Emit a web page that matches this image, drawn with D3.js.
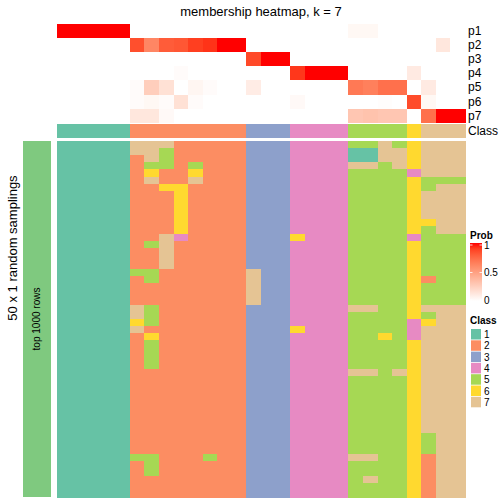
<!DOCTYPE html>
<html><head><meta charset="utf-8">
<script src="https://cdn.jsdelivr.net/npm/d3@7"></script>
<style>body{margin:0;background:#fff}svg{display:block}text{font-family:"Liberation Sans",Arial,Helvetica,sans-serif}</style>
</head><body><svg id="c" width="504" height="504"></svg>
<script>
// ---- data ----
const colClass = [1,1,1,1,1,2,2,2,2,2,2,2,2,3,3,3,4,4,4,4,5,5,5,5,6,7,7,7];
const p1 = [1,1,1,1,1,0,0,0,0,0,0,0,0,0,0,0,0,0,0,0,0.04,0.04,0,0,0,0,0,0];
const p2 = [0,0,0,0,0,0.85,0.62,0.8,0.82,0.9,0.93,1,1,0,0,0,0,0,0,0,0,0,0,0,0,0,0.13,0];
const p3 = [0,0,0,0,0,0,0,0,0,0,0,0,0,0.87,1,1,0,0,0,0,0,0,0,0,0,0,0,0];
const p4 = [0,0,0,0,0,0,0,0,0.02,0,0,0,0,0,0,0,0.92,1,1,1,0,0,0,0,0.11,0,0,0];
const p5 = [0,0,0,0,0,0.02,0.26,0.16,0,0.05,0.02,0,0,0.1,0,0,0,0,0,0,0.68,0.65,0.72,0.72,0,0.11,0,0];
const p6 = [0,0,0,0,0,0.02,0.04,0.02,0.16,0.02,0,0,0,0,0,0,0.03,0,0,0,0,0,0.01,0,0.86,0.04,0,0];
const p7 = [0,0,0,0,0,0.13,0.13,0.03,0,0,0,0,0,0,0,0,0,0,0,0,0.3,0.32,0.3,0.3,0,0.72,1,1];
const probRows = ["p1","p2","p3","p4","p5","p6","p7"];
const probData = [p1,p2,p3,p4,p5,p6,p7];
// membership per random sampling (rows) x sample (columns), digits = class
const samplings = [
"1111177722222333444455756777",
"1111177522222333444411776777",
"1111127522222333444411776777",
"1111125525222333444477576777",
"1111126226222333444455554777",
"1111127227222333444455556555",
"1111122662222333444455556577",
"1111122262222333444455556777",
"1111122262222333444455556777",
"1111122262222333444455556777",
"1111122262222333444455556777",
"1111122262222333444455556677",
"1111122262222333444455556577",
"1111122742222333644455554555",
"1111125722222333444455556555",
"1111122722222333444455556555",
"1111122722222333444455556555",
"1111122722222333444455556555",
"1111155222222733444455556555",
"1111125222222733444455556255",
"1111122222222733444455556555",
"1111122222222733444455556555",
"1111122222222733444455556555",
"1111175222222333444477556777",
"1111175222222333444455556577",
"1111165222222333444455554677",
"1111172222222333644455554777",
"1111126222222333444455654777",
"1111125222222333444455556777",
"1111125222222333444455556777",
"1111125222222333444455556777",
"1111125222222333444455556777",
"1111122222222333444477576777",
"1111122222222333444455556777",
"1111122222222333444455556777",
"1111122222222333444455556777",
"1111122222222333444455556777",
"1111122222222333444455556777",
"1111122222222333444455556777",
"1111122222222333444455556777",
"1111122222222333444455556777",
"1111122222222333444455556577",
"1111122222222333444455556577",
"1111122222222333444455556577",
"1111155222522333444477556277",
"1111125222222333444455556277",
"1111125222222333444455556277",
"1111122222222333444457556277",
"1111122222222333444455556277",
"1111122222222333444455556277"
];
const classLabels = ["1","2","3","4","5","6","7"];
const classColors = ["#66C2A5","#FC8D62","#8DA0CB","#E78AC3","#A6D854","#FFD92F","#E5C494"];
const probTicks = [0,0.5,1];

// ---- drawing ----
const svg = d3.select("#c");
const nCol = colClass.length;
const x = d3.scaleBand().domain(d3.range(nCol)).range([57,465]);
const yAnn = d3.scaleBand().domain(probRows).range([24,122.7]);
const yMain = d3.scaleBand().domain(d3.range(samplings.length)).range([141,497]);
const probColor = d3.scaleLinear().domain([0,1]).range(["#ffffff","#ff0000"]).interpolate(d3.interpolateLab);
const classColor = d3.scaleOrdinal().domain(classLabels).range(classColors);

svg.append("text").attr("x",261).attr("y",16).attr("text-anchor","middle")
  .attr("font-size",13).text("membership heatmap, k = 7");

const cells = svg.append("g").attr("shape-rendering","crispEdges");
// prob annotation
probRows.forEach((r,i)=>{
  cells.append("g").selectAll("rect").data(probData[i]).join("rect")
    .attr("x",(d,j)=>x(j)).attr("y",yAnn(r)).attr("width",x.bandwidth()+0.5).attr("height",yAnn.bandwidth()+0.5)
    .attr("fill",d=>probColor(d));
  svg.append("text").attr("x",468).attr("y",yAnn(r)+yAnn.bandwidth()/2+4).attr("font-size",12).text(r);
});
// class annotation
cells.append("g").selectAll("rect").data(colClass).join("rect")
  .attr("x",(d,j)=>x(j)).attr("y",124).attr("width",x.bandwidth()+0.5).attr("height",14)
  .attr("fill",d=>classColor(String(d)));
svg.append("text").attr("x",468).attr("y",135).attr("font-size",12).text("Class");

// main heatmap
samplings.forEach((row,i)=>{
  cells.append("g").selectAll("rect").data(row.split("")).join("rect")
    .attr("x",(d,j)=>x(j)).attr("y",yMain(i)).attr("width",x.bandwidth()+0.5).attr("height",yMain.bandwidth()+0.5)
    .attr("fill",d=>classColor(d));
});

// left split bar
svg.append("rect").attr("x",23).attr("y",141).attr("width",28).attr("height",356).attr("fill","#7FC97F").attr("shape-rendering","crispEdges");
svg.append("text").attr("transform","translate(40,319) rotate(-90)").attr("text-anchor","middle")
  .attr("font-size",10).text("top 1000 rows");
svg.append("text").attr("transform","translate(17,248) rotate(-90)").attr("text-anchor","middle")
  .attr("font-size",13).text("50 x 1 random samplings");

// legend: Prob
svg.append("text").attr("x",470).attr("y",239).attr("font-size",10).attr("font-weight","bold").text("Prob");
const defs = svg.append("defs");
const grad = defs.append("linearGradient").attr("id","pg").attr("x1",0).attr("y1",1).attr("x2",0).attr("y2",0);
d3.range(0,1.01,0.1).forEach(t=>grad.append("stop").attr("offset",t).attr("stop-color",probColor(t)));
const yLeg = d3.scaleLinear().domain([0,1]).range([300,245]);
svg.append("rect").attr("x",470).attr("y",243).attr("width",12).attr("height",58).attr("fill","url(#pg)");
probTicks.forEach(t=>{
  svg.append("line").attr("x1",470).attr("x2",472.5).attr("y1",yLeg(t)).attr("y2",yLeg(t)).attr("stroke","#fff").attr("stroke-width",0.8);
  svg.append("line").attr("x1",479.5).attr("x2",482).attr("y1",yLeg(t)).attr("y2",yLeg(t)).attr("stroke","#fff").attr("stroke-width",0.8);
  svg.append("text").attr("x",484).attr("y",yLeg(t)+3.5).attr("font-size",10).text(t===0.5?"0.5":String(t));
});
// legend: Class
svg.append("text").attr("x",470).attr("y",324).attr("font-size",10).attr("font-weight","bold").text("Class");
classLabels.forEach((c,i)=>{
  svg.append("rect").attr("x",471).attr("y",329+i*11.3).attr("width",10).attr("height",10.5).attr("fill",classColor(c));
  svg.append("text").attr("x",484).attr("y",329+i*11.3+9).attr("font-size",10).text(c);
});
</script></body></html>
